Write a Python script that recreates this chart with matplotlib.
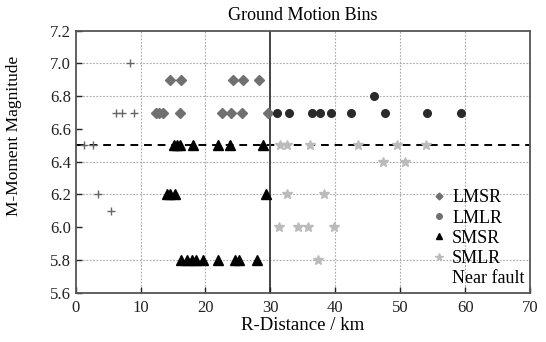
import matplotlib
matplotlib.use("Agg")
import matplotlib.pyplot as plt
from matplotlib.lines import Line2D

plt.rcParams['font.family'] = ['Liberation Serif', 'DejaVu Serif']

# LMSR (diamonds)
lmsr_r = [14.6, 16.2, 24.2, 25.8, 28.2, 12.3, 12.9, 13.4, 16.0, 22.5, 24.0, 25.6, 29.7]
lmsr_m = [6.9, 6.9, 6.9, 6.9, 6.9, 6.7, 6.7, 6.7, 6.7, 6.7, 6.7, 6.7, 6.7]
# LMLR (circles)
lmlr_r = [31.0, 32.8, 36.4, 37.7, 39.3, 42.4, 47.7, 54.1, 59.3, 46.0]
lmlr_m = [6.7, 6.7, 6.7, 6.7, 6.7, 6.7, 6.7, 6.7, 6.7, 6.8]
# SMSR (triangles)
smsr_r = [15.1, 15.6, 16.0, 18.1, 22.0, 23.8, 28.8,
          14.0, 14.6, 15.3, 29.4,
          16.3, 17.1, 17.9, 18.6, 19.6, 22.0, 24.5, 25.1, 28.0]
smsr_m = [6.5, 6.5, 6.5, 6.5, 6.5, 6.5, 6.5,
          6.2, 6.2, 6.2, 6.2,
          5.8, 5.8, 5.8, 5.8, 5.8, 5.8, 5.8, 5.8, 5.8]
# SMLR (stars)
smlr_r = [31.5, 32.5, 36.1, 43.5, 49.5, 54.0, 47.3, 50.7, 32.5, 38.2,
          31.4, 34.3, 35.8, 39.8, 37.4]
smlr_m = [6.5, 6.5, 6.5, 6.5, 6.5, 6.5, 6.4, 6.4, 6.2, 6.2,
          6.0, 6.0, 6.0, 6.0, 5.8]
# Near fault (+)
nf_r = [6.2, 7.1, 9.0, 8.4, 1.3, 2.6, 3.4, 5.4]
nf_m = [6.7, 6.7, 6.7, 7.0, 6.5, 6.5, 6.2, 6.1]

grid_m = [7.0, 6.8, 6.4, 6.2, 5.8]
grid_r = [10, 20, 40, 50, 60]
split_m = 6.5
split_r = 30

fig = plt.figure(figsize=(5.46, 3.42), dpi=100)
ax = fig.add_axes([0.1386, 0.1442, 0.8321, 0.7661])
ax.set_xlim(0, 70)
ax.set_ylim(5.6, 7.2)

for m in grid_m:
    ax.axhline(m, color='#a8a8a8', lw=0.8, ls=(0, (1.5, 1.5)), zorder=0)
for r in grid_r:
    ax.axvline(r, color='#a8a8a8', lw=0.8, ls=(0, (1.5, 1.5)), zorder=0)

ax.axhline(split_m, color='black', lw=1.4, ls=(0, (4, 3)), zorder=1)
ax.axvline(split_r, color='#444444', lw=1.4, zorder=1)

ax.plot(lmsr_r, lmsr_m, ls='none', marker='D', ms=4.8, color='#707070', mec='#707070', zorder=3)
ax.plot(lmlr_r, lmlr_m, ls='none', marker='o', ms=5.5, color='#2a2a2a', mec='#2a2a2a', zorder=3)
ax.plot(smsr_r, smsr_m, ls='none', marker='^', ms=6.5, color='black', mec='black', zorder=3)
ax.plot(smlr_r, smlr_m, ls='none', marker='*', ms=7, color='#bbbbbb', mec='#bbbbbb', zorder=3)
ax.plot(nf_r, nf_m, ls='none', marker='+', ms=6, color='#666666', mew=1.0, zorder=3)

handles = [
    Line2D([], [], ls='none', marker='D', ms=3.5, color='#707070'),
    Line2D([], [], ls='none', marker='o', ms=4, color='#707070'),
    Line2D([], [], ls='none', marker='^', ms=4.5, color='black'),
    Line2D([], [], ls='none', marker='*', ms=5.5, color='#bbbbbb'),
    Line2D([], [], ls='none', marker='None'),
]
labels = ['LMSR', 'LMLR', 'SMSR', 'SMLR', 'Near fault']
leg = ax.legend(handles, labels, loc='lower right', frameon=False, fontsize=13,
                handlelength=0.6, handletextpad=0.4, labelspacing=0.18,
                borderaxespad=0.15, borderpad=0.15)

ax.set_xticks(range(0, 71, 10))
ax.set_yticks([5.6, 5.8, 6.0, 6.2, 6.4, 6.6, 6.8, 7.0, 7.2])
ax.set_yticklabels(['5.6', '5.8', '6.0', '6.2', '6.4', '6.6', '6.8', '7.0', '7.2'])
ax.tick_params(direction='in', length=4, width=1, labelsize=12, colors='#222222',
               top=False, right=False)
ax.tick_params(axis='x', pad=5)
for s in ax.spines.values():
    s.set_color('#555555')
    s.set_linewidth(1.3)

ax.set_title('Ground Motion Bins', fontsize=13, pad=8)
ax.set_xlabel('R-Distance / km', fontsize=13.5, labelpad=1)
ax.set_ylabel('M-Moment Magnitude', fontsize=12.5)
ax.yaxis.set_label_coords(-0.118, 0.6)

fig.savefig('out.png', dpi=100)
